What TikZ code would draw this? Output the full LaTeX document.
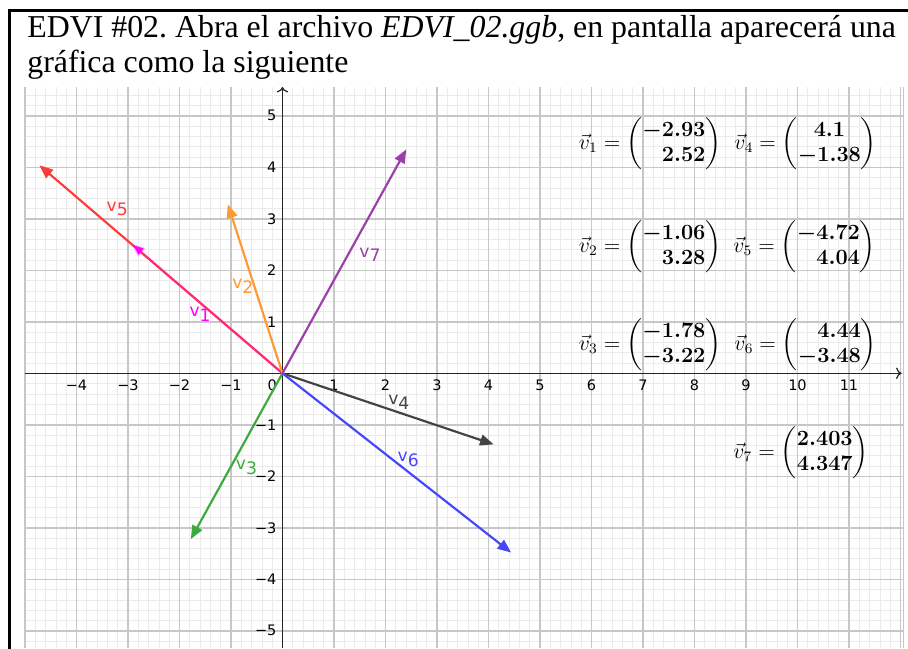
\documentclass[tikz,border=0pt]{standalone}
\usepackage{amsmath,mathtools,bm}
\usepackage[no-math]{fontspec}
\setmainfont{Liberation Serif}
\newfontfamily\ggbfont{DejaVu Sans}
\usetikzlibrary{arrows.meta}
\definecolor{vone}{HTML}{FF00FF}
\definecolor{vtwo}{HTML}{FF9933}
\definecolor{vthree}{HTML}{3DAA3D}
\definecolor{vfour}{HTML}{444444}
\definecolor{vfive}{HTML}{FF3C3C}
\definecolor{vsix}{HTML}{4646FF}
\definecolor{vseven}{HTML}{9C3FAA}
\newcommand{\colv}[2]{\begin{pmatrix*}[r]\bm{#1}\\\bm{#2}\end{pmatrix*}}
\frenchspacing

\begin{document}
\begin{tikzpicture}[
    vec/.style={-{Triangle[length=7.5pt,width=6pt]}, line width=1.2pt},
    axis/.style={-{To[length=3pt]}, line width=0.7pt, black!85},
    lbl/.style={font=\ggbfont\fontsize{9.5}{11}\selectfont, inner sep=0pt},
    tick/.style={font=\ggbfont\fontsize{8}{9}\selectfont, inner sep=0pt},
    eqn/.style={inner sep=0pt, font=\fontsize{11.6}{14}\selectfont},
    title/.style={anchor=base west, inner sep=0pt, font=\fontsize{17.6}{20}\selectfont},
  ]
    \useasboundingbox (-5.485,-5.334) rectangle (12.146,7.249);
    \fill[white] (-5.485,-5.334) rectangle (12.146,7.249);
    % grid of the screenshot
    \draw[black!8, line width=0.4pt, step=0.2] (-5,-5.334) grid (12.06,5.559);
    \draw[black!22, line width=0.8pt, step=1] (-5,-5.334) grid (12.06,5.559);
    \draw[black!22, line width=0.6pt] (12.06,-5.334) -- (12.06,5.559);
    % axes
    \coordinate (O) at (0,0);
    \coordinate (xl) at (-5,0);
    \coordinate (xr) at (12.02,0);
    \coordinate (yb) at (0,-5.334);
    \coordinate (yt) at (0,5.56);
    \draw[axis] (xl) -- (xr);
    \draw[axis] (yb) -- (yt);
    \foreach \x/\t [count=\i] in {-4/−4,-3/−3,-2/−2,-1/−1,1/1,2/2,3/3,4/4,5/5,6/6,7/7,8/8,9/9,10/10,11/11}
      \node[tick] (tx\i) at (\x,-0.23) {\t};
    \node[tick] (tx0) at (-0.2,-0.23) {0};
    \foreach \y/\t [count=\i] in {-5/−5,-4/−4,-3/−3,-2/−2,-1/−1,1/1,2/2,3/3,4/4,5/5}
      \node[tick, anchor=east] (ty\i) at (-0.11,\y) {\t};
    % vectors
    \coordinate (v1) at (-2.93,2.52);
    \coordinate (v2) at (-1.06,3.28);
    \coordinate (v3) at (-1.78,-3.22);
    \coordinate (v4) at (4.1,-1.38);
    \coordinate (v5) at (-4.72,4.04);
    \coordinate (v6) at (4.44,-3.48);
    \coordinate (v7) at (2.403,4.347);
    \draw[vec, vfive] (O) -- (v5);
    \draw[vec, vone, draw opacity=0.3] (O) -- (v1);
    \draw[vec, vtwo] (O) -- (v2);
    \draw[vec, vthree] (O) -- (v3);
    \draw[vec, vfour] (O) -- (v4);
    \draw[vec, vsix] (O) -- (v6);
    \draw[vec, vseven] (O) -- (v7);
    \node[lbl, vone]   (l1) at (-1.60,1.15) {v\raisebox{-0.5ex}{1}};
    \node[lbl, vtwo]   (l2) at (-0.77,1.69) {v\raisebox{-0.5ex}{2}};
    \node[lbl, vthree] (l3) at (-0.70,-1.83) {v\raisebox{-0.5ex}{3}};
    \node[lbl, vfour]  (l4) at (2.26,-0.56) {v\raisebox{-0.5ex}{4}};
    \node[lbl, vfive]  (l5) at (-3.21,3.19) {v\raisebox{-0.5ex}{5}};
    \node[lbl, vsix]   (l6) at (2.44,-1.67) {v\raisebox{-0.5ex}{6}};
    \node[lbl, vseven] (l7) at (1.70,2.30) {v\raisebox{-0.5ex}{7}};
    % components
    \node[eqn] (e1) at (7.14,4.46) {$\vec{v}_1 = \colv{-2.93}{2.52}$};
    \node[eqn] (e4) at (10.16,4.46) {$\vec{v}_4 = \begin{pmatrix}\bm{4.1}\\\bm{-1.38}\end{pmatrix}$};
    \node[eqn] (e2) at (7.14,2.46) {$\vec{v}_2 = \colv{-1.06}{3.28}$};
    \node[eqn] (e5) at (10.14,2.46) {$\vec{v}_5 = \colv{-4.72}{4.04}$};
    \node[eqn] (e3) at (7.14,0.55) {$\vec{v}_3 = \colv{-1.78}{-3.22}$};
    \node[eqn] (e6) at (10.16,0.55) {$\vec{v}_6 = \colv{4.44}{-3.48}$};
    \node[eqn] (e7) at (10.07,-1.54) {$\vec{v}_7 = \colv{2.403}{4.347}$};
    % page frame and text above the screenshot
    \draw[line width=1.66pt] (-5.291,-5.5) -- (-5.291,7.054) -- (12.3,7.054);
    \node[title] (t1) at (-4.961,6.511)
      {EDVI \#02. Abra el archivo \textit{EDVI\_02.ggb}, en pantalla aparecerá una};
    \node[title] (t2) at (-4.961,5.85) {gráfica como la siguiente};
\end{tikzpicture}
\end{document}
